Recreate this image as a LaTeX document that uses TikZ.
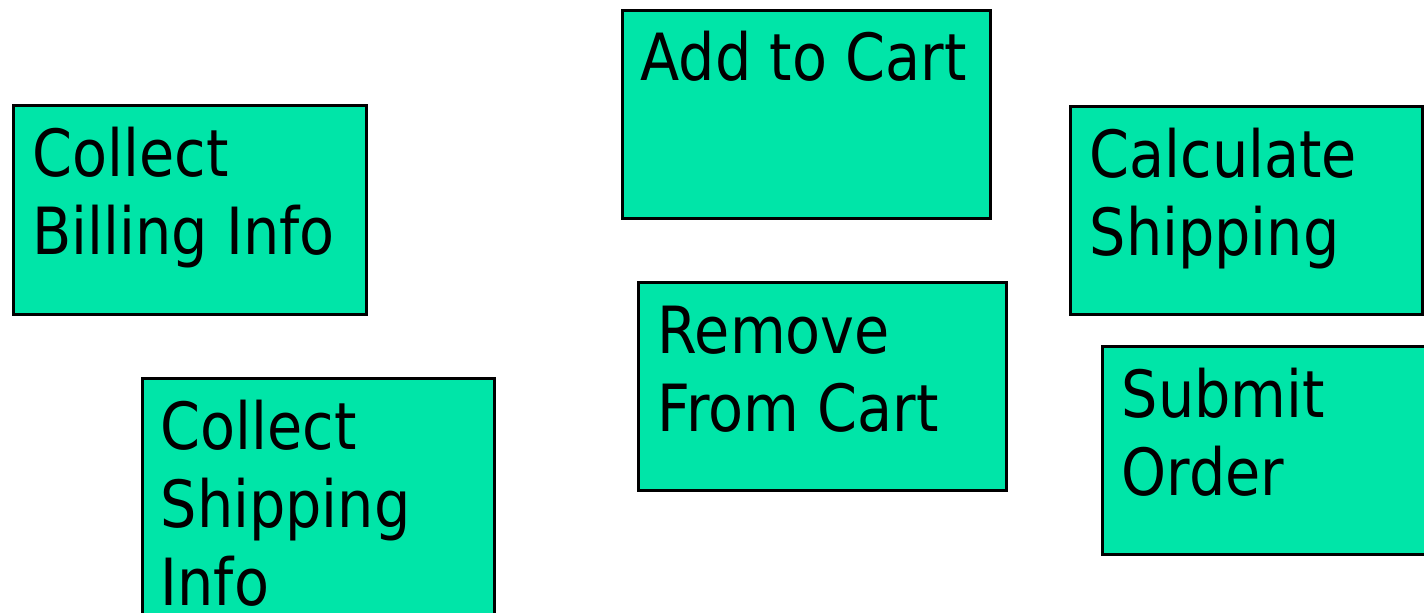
\documentclass[tikz,border=0pt]{standalone}
\usepackage{fontspec}
\setmainfont{DejaVu Sans}[FakeStretch=0.88]
\definecolor{taskgreen}{RGB}{0,229,168}

\begin{document}
\begin{tikzpicture}[x=0.01cm,y=0.01cm,
   task/.style={draw=black, line width=0.8pt, fill=taskgreen, anchor=north west,
                inner sep=0pt, minimum width=3.52cm, minimum height=2.08cm},
   tasktext/.style={anchor=base west, inner sep=0pt, align=left,
                font=\fontsize{18.5pt}{22.2pt}\selectfont}]
   \useasboundingbox (0,0) rectangle (1424,613);
   \clip (0,0) rectangle (1424,613);

   \node[task, minimum width=3.53cm, minimum height=2.09cm] (bill) at (12,509) {} ; %
   \node[task, minimum width=3.68cm]   (add)    at (621,604)  {} ; %
   \node[task]                         (calc)   at (1069,508) {} ; %
   \node[task, minimum width=3.68cm]   (remove) at (637,332)  {} ; %
   \node[task]                         (submit) at (1101,268) {} ; %
   \node[task, minimum height=2.6cm]   (ship)   at (141,236)  {} ; %

   % base anchor sits on the last line
   \node[tasktext] (billT)   at ([shift={(20,-151)}]bill.north west)   {Collect\\Billing Info} ; %
   \node[tasktext] (addT)    at ([shift={(19,-72)}]add.north west)     {Add to Cart} ; %
   \node[tasktext] (calcT)   at ([shift={(20,-151)}]calc.north west)   {Calculate\\Shipping} ; %
   \node[tasktext] (removeT) at ([shift={(20,-151)}]remove.north west) {Remove\\From Cart} ; %
   \node[tasktext] (submitT) at ([shift={(20,-151)}]submit.north west) {Submit\\Order} ; %
   \node[tasktext] (shipT)   at ([shift={(19,-229)}]ship.north west)   {Collect\\Shipping\\Info} ; %

\end{tikzpicture}
\end{document}
